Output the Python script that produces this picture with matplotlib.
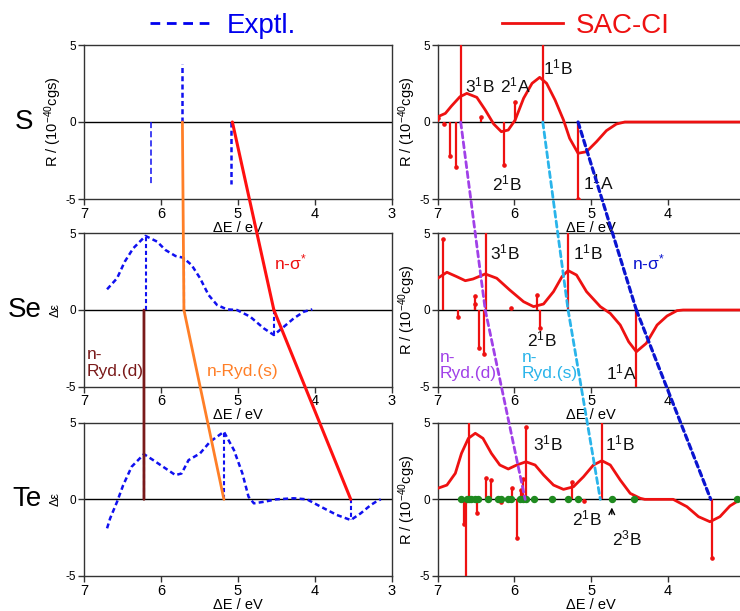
import matplotlib
matplotlib.use("Agg")
import matplotlib.pyplot as plt
from matplotlib.patches import ConnectionPatch
from matplotlib.lines import Line2D
from matplotlib.transforms import blended_transform_factory

plt.rcParams['font.family'] = ['Liberation Sans', 'DejaVu Sans']
plt.rcParams['mathtext.fontset'] = 'custom'
plt.rcParams['mathtext.rm'] = 'Liberation Sans'
plt.rcParams['mathtext.it'] = 'Liberation Sans:italic'
plt.rcParams['mathtext.bf'] = 'Liberation Sans:bold'
plt.rcParams['axes.unicode_minus'] = False

# ---------------- data ----------------
rows = ["S", "Se", "Te"]
xticks_left = [7, 6, 5, 4, 3]
xticks_right = [7, 6, 5, 4]
yticks = [-5, 0, 5]

# Experimental (left column)
s_exp_stick_x = [6.13, 5.72, 5.09]
s_exp_stick_y = [-4.0, 3.75, -4.0]

se_exp_x = [6.70, 6.57, 6.47, 6.36, 6.20, 6.05, 5.94, 5.81, 5.71, 5.60, 5.49, 5.38,
            5.27, 5.14, 5.01, 4.84, 4.66, 4.53, 4.40, 4.27, 4.14, 4.03]
se_exp_y = [1.35, 2.07, 3.15, 4.02, 4.83, 4.46, 3.91, 3.52, 3.41, 2.93, 2.07, 0.98,
            0.33, 0.04, 0.0, -0.43, -1.20, -1.63, -1.09, -0.54, -0.11, 0.04]
se_exp_stick_x = [6.20, 5.70, 4.53]
se_exp_stick_y = [4.83, 3.41, -1.63]

te_exp_x = [6.70, 6.66, 6.57, 6.49, 6.38, 6.22, 6.10, 5.94, 5.81, 5.73, 5.64, 5.49,
            5.36, 5.18, 5.05, 4.94, 4.86, 4.79, 4.66, 4.50, 4.27, 4.10, 3.92, 3.71,
            3.53, 3.40, 3.27, 3.20, 3.14]
te_exp_y = [-1.89, -1.24, -0.16, 0.93, 2.13, 2.95, 2.56, 2.02, 1.58, 1.69, 2.56, 3.00,
            3.76, 4.41, 3.22, 1.70, 0.17, -0.26, -0.16, 0.0, 0.07, 0.0, -0.48, -1.02,
            -1.35, -0.91, -0.37, -0.15, 0.0]
te_exp_stick_x = [6.22, 5.18, 3.53]
te_exp_stick_y = [2.95, 4.41, -1.35]

# SAC-CI (right column)
s_calc_x = [7.0, 6.90, 6.82, 6.71, 6.62, 6.49, 6.38, 6.27, 6.17, 6.08, 5.99, 5.88,
            5.77, 5.67, 5.58, 5.47, 5.36, 5.28, 5.17, 5.06, 4.93, 4.80, 4.67, 4.56, 3.0]
s_calc_y = [0.34, 0.56, 1.04, 1.64, 1.86, 1.60, 0.78, -0.13, -0.63, -0.52, 0.13, 1.54,
            2.51, 2.90, 2.51, 1.43, 0.13, -1.06, -2.03, -1.93, -1.28, -0.56, -0.13, 0.0, 0.0]
s_stick_x = [6.99, 6.92, 6.84, 6.76, 6.70, 6.43, 6.14, 5.99, 5.63, 5.17]
s_stick_r = [0.24, -0.13, -2.20, -2.90, 9.0, 0.30, -2.80, 1.28, 9.0, -5.0]

se_calc_x = [7.0, 6.88, 6.75, 6.64, 6.54, 6.38, 6.23, 6.06, 5.88, 5.75, 5.62, 5.49,
             5.38, 5.30, 5.19, 5.06, 4.88, 4.75, 4.62, 4.51, 4.41, 4.28, 4.14, 4.01,
             3.88, 3.80, 3.0]
se_calc_y = [2.07, 2.46, 2.17, 1.91, 2.02, 2.35, 2.07, 1.30, 0.54, 0.22, 0.39, 1.20,
             2.17, 2.57, 2.28, 1.20, 0.22, -0.22, -0.98, -2.07, -2.72, -2.17, -0.98,
             -0.39, -0.04, 0.0, 0.0]
se_stick_x = [6.93, 6.73, 6.52, 6.52, 6.46, 6.39, 6.37, 6.04, 5.71, 5.67, 5.30, 4.41]
se_stick_r = [4.61, -0.48, 0.91, 0.40, -2.50, -2.87, 9.0, 0.10, 0.98, -1.19, 9.0, -9.0]

te_calc_x = [7.0, 6.88, 6.77, 6.69, 6.60, 6.51, 6.41, 6.30, 6.19, 6.08, 5.97, 5.85,
             5.73, 5.62, 5.49, 5.36, 5.23, 5.10, 4.97, 4.86, 4.75, 4.62, 4.49, 4.36,
             4.30, 3.93, 3.75, 3.60, 3.45, 3.32, 3.19, 3.10, 3.05]
te_calc_y = [0.72, 0.93, 1.70, 3.00, 3.98, 4.31, 3.98, 3.00, 2.24, 1.98, 2.24, 2.45,
             2.24, 1.59, 0.93, 0.65, 0.82, 1.47, 2.24, 2.52, 2.24, 1.26, 0.39, 0.07,
             0.0, 0.0, -0.48, -1.13, -1.46, -1.13, -0.43, -0.15, -0.05]
te_stick_x = [6.66, 6.63, 6.59, 6.49, 6.37, 6.30, 6.17, 6.03, 5.96, 5.92, 5.89, 5.85,
              5.25, 5.09, 4.86, 3.43]
te_stick_r = [-1.61, -9.0, 9.0, -0.87, 1.37, 1.26, -0.15, 0.72, -2.54, 0.61, 1.30, 4.74,
              1.15, -0.11, 9.0, -3.85]
te_triplet_x = [6.70, 6.62, 6.59, 6.56, 6.52, 6.48, 6.34, 6.22, 6.17, 6.08, 6.04, 5.93,
                5.89, 5.85, 5.74, 5.51, 5.30, 5.17, 4.73, 4.44, 3.10]

# state labels (text, x, y) for the SAC-CI panels
s_labels = [("3$^{1}$B", 6.64, 2.4), ("2$^{1}$A", 6.19, 2.4), ("1$^{1}$B", 5.63, 3.57),
            ("2$^{1}$B", 6.29, -3.96), ("1$^{1}$A", 5.10, -3.9)]
se_labels = [("3$^{1}$B", 6.32, 3.78), ("1$^{1}$B", 5.24, 3.72),
             ("2$^{1}$B", 5.84, -1.95), ("1$^{1}$A", 4.81, -4.04)]
te_labels = [("3$^{1}$B", 5.76, 3.67), ("1$^{1}$B", 4.82, 3.67),
             ("2$^{1}$B", 5.25, -1.22), ("2$^{3}$B", 4.73, -2.54)]

# correlation lines: positions on the zero line, panel to panel
ryd_s_exp = [5.72, 5.70, 5.18]
sig_exp = [5.07, 4.53, 3.53]
ryd_d_exp = [6.22, 6.22]
ryd_d_calc = [6.70, 6.38, 5.86]
ryd_s_calc = [5.63, 5.30, 4.88]
sig_calc = [5.17, 4.41, 3.44]

# ---------------- figure ----------------
W, H = 740, 611
fig = plt.figure(figsize=(W / 100, H / 100), dpi=100)

def px_axes(x0, x1, y0, y1):
    return fig.add_axes([x0 / W, 1 - y1 / H, (x1 - x0) / W, (y1 - y0) / H])

row_px = [(45, 199), (233.3, 386.7), (422.7, 576)]
axL = [px_axes(84, 391.5, a, b) for a, b in row_px]
axR = [px_axes(437.7, 744.5, a, b) for a, b in row_px]

BLUE = '#1010f0'
RED = '#ee1111'
ORANGE = '#ff7f27'
DARKRED = '#7a1a1a'
PURPLE = '#a040e8'
CYAN = '#2ab4ea'
NAVY = '#0a14d0'
GREEN = '#1f8a1f'

for ax, xt in zip(axL + axR, [xticks_left] * 3 + [xticks_right] * 3):
    ax.set_xlim(7, 3)
    ax.set_ylim(-5, 5)
    ax.set_xticks(xt)
    ax.set_yticks(yticks)
    ax.tick_params(direction='out', length=4, width=1, color='#333333', pad=1.5)
    ax.tick_params(axis='x', labelsize=10.5)
    ax.tick_params(axis='y', labelsize=8.5)
    for sp in ax.spines.values():
        sp.set_linewidth(1.0)
        sp.set_color('#333333')
    ax.axhline(0, color='black', lw=1, zorder=1)
    ax.set_xlabel('ΔE / eV', fontsize=10.5, labelpad=0)

axL[0].set_ylabel('R / (10$^{-40}$cgs)', fontsize=10.5, labelpad=1)
axL[1].set_ylabel('Δε', fontsize=9, labelpad=3)
axL[2].set_ylabel('Δε', fontsize=9, labelpad=3)
for ax in axR:
    ax.set_ylabel('R / (10$^{-40}$cgs)', fontsize=10.5, labelpad=1)

# row names
for ax, name, xf in zip(axL, rows, [24, 25, 27]):
    tr = blended_transform_factory(fig.transFigure, ax.transData)
    ax.text(xf / W, 0, name, transform=tr, fontsize=20, ha='center', va='center')

exp_dash = dict(color=BLUE, lw=1.8, dashes=(2.0, 1.3))

# left: experiment
axL[0].vlines(s_exp_stick_x[:1], 0, s_exp_stick_y[:1], colors=BLUE, lw=1.1, linestyles=(0, (4, 2)))
axL[0].vlines(s_exp_stick_x[1:], 0, s_exp_stick_y[1:], colors=BLUE, lw=1.8, linestyles=(0, (2.0, 1.3)))

axL[1].plot(se_exp_x, se_exp_y, **exp_dash)
axL[1].vlines(se_exp_stick_x, 0, se_exp_stick_y, colors=BLUE, lw=1.5, linestyles=(0, (2.0, 1.3)))
axL[2].plot(te_exp_x, te_exp_y, **exp_dash)
axL[2].vlines(te_exp_stick_x, 0, te_exp_stick_y, colors=BLUE, lw=1.5, linestyles=(0, (2.0, 1.3)))

# right: SAC-CI
calc = [(s_calc_x, s_calc_y, s_stick_x, s_stick_r),
        (se_calc_x, se_calc_y, se_stick_x, se_stick_r),
        (te_calc_x, te_calc_y, te_stick_x, te_stick_r)]
for ax, (cx, cy, sx, sr) in zip(axR, calc):
    ax.vlines(sx, 0, sr, colors=RED, lw=1.6, zorder=3)
    ax.plot(sx, sr, 'o', color=RED, ms=2.3, zorder=3)
    ax.plot(cx, cy, color=RED, lw=2, zorder=4, solid_joinstyle='round')

axR[2].plot(te_triplet_x, [0] * len(te_triplet_x), 'o', color=GREEN, ms=4.3, zorder=5)

for ax, labs in zip(axR, [s_labels, se_labels, te_labels]):
    for t, x, y in labs:
        ax.text(x, y, t, fontsize=12.5, ha='left', va='center', color='#111111', zorder=6)

axR[2].annotate('', xy=(4.73, -0.35), xytext=(4.73, -1.15),
                arrowprops=dict(arrowstyle='->', color='black', lw=1))

# labels for correlation lines
axL[1].text(4.53, 3.07, 'n-σ$^{*}$', color=RED, fontsize=12.5, ha='left', va='center')
axL[1].text(6.96, -3.46, 'n-\nRyd.(d)', color=DARKRED, fontsize=12.5, ha='left', va='center',
            linespacing=1.1)
axL[1].text(5.40, -4.04, 'n-Ryd.(s)', color=ORANGE, fontsize=12.5, ha='left', va='center')
axR[1].text(4.47, 3.13, 'n-σ$^{*}$', color=NAVY, fontsize=12.5, ha='left', va='center')
axR[1].text(6.97, -3.6, 'n-\nRyd.(d)', color=PURPLE, fontsize=12.5, ha='left', va='center',
            linespacing=1.1)
axR[1].text(5.90, -3.6, 'n-\nRyd.(s)', color=CYAN, fontsize=12.5, ha='left', va='center',
            linespacing=1.1)

# correlation lines between panels
def connect(axes, xs, **kw):
    for (a1, a2), (x1, x2) in zip(zip(axes[:-1], axes[1:]), zip(xs[:-1], xs[1:])):
        con = ConnectionPatch(xyA=(x1, 0), coordsA='data', axesA=a1,
                              xyB=(x2, 0), coordsB='data', axesB=a2, **kw)
        fig.add_artist(con)

connect(axL, ryd_s_exp, color=ORANGE, lw=2)
connect(axL, sig_exp, color='#ff1010', lw=2.2)
connect(axL[1:], ryd_d_exp, color=DARKRED, lw=2)
connect(axR, ryd_d_calc, color=PURPLE, lw=2, linestyle=(0, (2.2, 1.4)))
connect(axR, ryd_s_calc, color=CYAN, lw=2, linestyle=(0, (2.2, 1.4)))
connect(axR, sig_calc, color=NAVY, lw=2.3, linestyle=(0, (1.8, 1.2)))

# legends
h1 = Line2D([], [], color='#0000ee', lw=2, dashes=(3.5, 2.4))
h2 = Line2D([], [], color='#ee1111', lw=2)
fig.legend([h1], ['Exptl.'], loc='center left', bbox_to_anchor=(150 / W, 1 - 26 / H),
           frameon=False, fontsize=20, handlelength=2.3, handletextpad=0.45,
           borderpad=0, borderaxespad=0, labelcolor='#0000ee')
fig.legend([h2], ['SAC-CI'], loc='center left', bbox_to_anchor=(502 / W, 1 - 26 / H),
           frameon=False, fontsize=20, handlelength=2.2, handletextpad=0.45,
           borderpad=0, borderaxespad=0, labelcolor='#ee1111')

fig.savefig('out.png', dpi=100)
